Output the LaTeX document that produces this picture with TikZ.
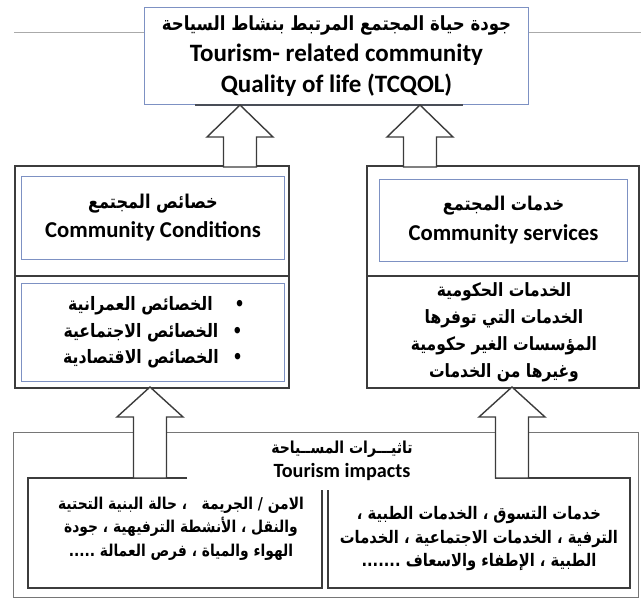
\documentclass[tikz,border=0pt]{standalone}
\usepackage{fontspec}
\setmainfont{Carlito}
\newfontfamily\arabicfont[Script=Arabic,FakeStretch=0.85]{DejaVu Sans}
\TeXXeTstate=1
\newcommand\artxt[2][]{{\arabicfont\bfseries#1\beginR #2\endR}}
\newcommand\fs[2]{\fontsize{#1}{#2}\selectfont}
\definecolor{boxblue}{RGB}{125,145,195}
\definecolor{boxgray}{RGB}{60,60,60}
\definecolor{linegray}{RGB}{170,170,170}
\begin{document}
\begin{tikzpicture}[x=1pt,y=-1pt,
  bluebox/.style={draw=boxblue, line width=1pt, fill=white, inner sep=0pt, align=center, anchor=north west},
  blackbox/.style={draw=boxgray, line width=1.6pt, inner sep=0pt, anchor=north west},
  plain/.style={inner sep=0pt, align=center},
  blockarrow/.style={draw=boxgray, line width=1.4pt, fill=white, line join=miter},
  frame/.style={draw=boxgray, line width=1.4pt}]
\useasboundingbox (0,0) rectangle (641,599);
\fill[white] (0,0) rectangle (641,599);

% top thin gray line
\coordinate (gl) at (14,32);
\coordinate (gr) at (641,32);
\draw[linegray, line width=0.8pt] (gl) -- (gr);

% top box
\node[bluebox, minimum width=384pt, minimum height=97pt, font=\bfseries\fs{25}{31}] (tq) at (144,7)
 {\artxt[\fs{19.5}{31}]{جودة حياة المجتمع المرتبط بنشاط السياحة}\\Tourism- related community\\Quality of life (TCQOL)};
\draw[boxgray!80!boxblue, line width=1.2pt] ([xshift=51pt]tq.south west) -- ([xshift=-66pt]tq.south east);

% middle left
\node[blackbox, minimum width=274pt, minimum height=222pt] (cl) at (14,165) {};
\coordinate (cld1) at (14,276);
\coordinate (cld2) at (288,276);
\draw[frame] (cld1) -- (cld2);
\node[bluebox, minimum width=263pt, minimum height=83pt, font=\bfseries\fs{22.7}{29}] (cc) at (21,176)
 {\artxt[\fs{19}{29}]{خصائص المجتمع}\\Community Conditions};
\node[bluebox, minimum width=263pt, minimum height=98pt, font=\fs{18.5}{26.5}] (ccl) at (21,283)
 {\artxt{•\hspace{22pt}الخصائص العمرانية\hspace{7pt}}\\\artxt{•\hspace{14pt}الخصائص الاجتماعية}\\\artxt{•\hspace{14pt}الخصائص الاقتصادية}};

% middle right
\node[blackbox, minimum width=272pt, minimum height=222pt] (cr) at (366,165) {};
\coordinate (crd1) at (366,276);
\coordinate (crd2) at (638,276);
\draw[frame] (crd1) -- (crd2);
\node[bluebox, minimum width=248pt, minimum height=82pt, font=\bfseries\fs{22.7}{30}] (cs) at (379,179)
 {\artxt[\fs{19}{30}]{خدمات المجتمع}\\Community services};
\node[plain, font=\fs{18.3}{27}] (csl) at (504,332)
 {\artxt{الخدمات الحكومية}\\\artxt{الخدمات التي توفرها}\\\artxt{المؤسسات الغير حكومية}\\\artxt{وغيرها من الخدمات}};

% bottom outer box
\node[blackbox, draw=boxgray!70, line width=1.4pt, minimum width=625pt, minimum height=165pt] (ti) at (13,432) {};
\node[plain, font=\bfseries\fs{20.2}{24}] (tit) at (342,461)
 {\artxt[\fs{16.5}{24}]{تاثيـــرات المســياحة}\\Tourism impacts};

% lower inner frames
\coordinate (l1) at (187,478);
\coordinate (l2) at (28,478);
\coordinate (l3) at (28,588);
\coordinate (l4) at (322,588);
\coordinate (l5) at (322,490);
\draw[frame, line join=miter] (l1) -- (l2) -- (l3) -- (l4) -- (l5);
\coordinate (r1) at (495,478);
\coordinate (r2) at (630,478);
\coordinate (r3) at (630,588);
\coordinate (r4) at (328,588);
\coordinate (r5) at (328,490);
\draw[frame, line join=miter] (r1) -- (r2) -- (r3) -- (r4) -- (r5);

\node[plain, font=\fs{16.3}{23.5}] (til) at (181,528.5)
 {\artxt{الامن / الجريمة \ \ ، حالة البنية التحتية}\\\artxt{والنقل ، الأنشطة الترفيهية ، جودة}\\\artxt{الهواء والمياة ، فرص العمالة .....}};
\node[plain, font=\fs{17.3}{23.5}] (tir) at (479,539)
 {\artxt{خدمات التسوق ، الخدمات الطبية ،}\\\artxt{الترفية ، الخدمات الاجتماعية ، الخدمات}\\\artxt{الطبية ، الإطفاء والاسعاف .......}};

% block arrows (upper)
\coordinate (ua1) at (240,105);
\draw[blockarrow] (ua1) -- ++(33,32) -- ++(-16.5,0) -- ++(0,30) -- ++(-33,0) -- ++(0,-30) -- ++(-16.5,0) -- cycle;
\coordinate (ua2) at (420,105);
\draw[blockarrow] (ua2) -- ++(33,32) -- ++(-16.5,0) -- ++(0,30) -- ++(-33,0) -- ++(0,-30) -- ++(-16.5,0) -- cycle;
% block arrows (lower)
\coordinate (la1) at (150,387);
\draw[blockarrow] (la1) -- ++(33,30) -- ++(-16.5,0) -- ++(0,61) -- ++(-33,0) -- ++(0,-61) -- ++(-16.5,0) -- cycle;
\coordinate (la2) at (512,387);
\draw[blockarrow] (la2) -- ++(33,30) -- ++(-16.5,0) -- ++(0,61) -- ++(-33,0) -- ++(0,-61) -- ++(-16.5,0) -- cycle;
\end{tikzpicture}
\end{document}
